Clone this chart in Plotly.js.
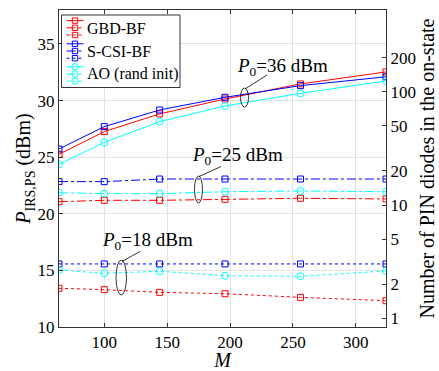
<!DOCTYPE html>
<html>
<head>
<meta charset="utf-8">
<script src="https://cdn.plot.ly/plotly-3.0.1.min.js"></script>
<style>html,body{margin:0;padding:0;background:#fff;}#plot{width:439px;height:371px;}</style>
</head>
<body>
<div id="plot"></div>
<script>
// ---- data ----
const M = [64, 100, 144, 196, 256, 324];
const gbd36  = [25.26, 27.26, 28.82, 30.14, 31.47, 32.53];
const scsi36 = [25.72, 27.70, 29.17, 30.29, 31.32, 32.10];
const ao36   = [24.37, 26.30, 28.14, 29.52, 30.64, 31.73];
const gbd25  = [21.07, 21.19, 21.19, 21.28, 21.37, 21.31];
const scsi25 = [22.84, 22.84, 23.07, 23.07, 23.07, 23.07];
const ao25   = [21.86, 21.78, 21.78, 21.95, 22.01, 21.95];
const gbd18  = [13.42, 13.30, 13.06, 12.94, 12.62, 12.32];
const scsi18 = [15.57, 15.57, 15.57, 15.57, 15.57, 15.57];
const ao18   = [15.04, 14.74, 14.92, 14.53, 14.48, 14.95];
const xTicks = [100, 150, 200, 250, 300];
const rightTicks = [1, 2, 5, 10, 20, 50, 100, 200];
const legendNames = ['GBD-BF', 'S-CSI-BF', 'AO (rand init)'];
const powerLabels = ['36', '25', '18'];

const RED = '#ff0000', BLUE = '#0000ff', CYAN = '#00ffff';
const FONT = '"Liberation Serif", "DejaVu Serif", serif';

const W = 439, H = 371;
const mg = {l: 59, r: 53, t: 10, b: 44};
const pw = W - mg.l - mg.r, ph = H - mg.t - mg.b;
const px = x => (x - mg.l) / pw;
const py = y => (mg.t + ph - y) / ph;

function tr(y, color, dash, symbol) {
  return {
    x: M, y: y, type: 'scatter', mode: 'lines+markers',
    line: {color: color, width: 1, dash: dash},
    marker: {symbol: symbol, size: symbol === 'circle-open' ? 7 : 6, color: color, line: {width: 1, color: color}},
    showlegend: false, hoverinfo: 'skip'
  };
}

const c = 10.77;
const traces = [
  tr(gbd36, RED, 'solid', 'square-open'),
  tr(scsi36, BLUE, 'solid', 'square-open'),
  tr(ao36, CYAN, 'solid', 'circle-open'),
  tr(gbd25, RED, 'dashdot', 'square-open'),
  tr(scsi25, BLUE, 'dashdot', 'square-open'),
  tr(ao25, CYAN, 'dashdot', 'circle-open'),
  tr(gbd18, RED, 'dot', 'square-open'),
  tr(scsi18, BLUE, 'dot', 'square-open'),
  tr(ao18, CYAN, 'dot', 'circle-open'),
  // invisible companion trace so the right (count) axis is drawn
  {x: M, y: scsi18.map(v => Math.pow(10, (v - c) / 10)), yaxis: 'y2', type: 'scatter', mode: 'markers',
   marker: {size: 1, color: 'rgba(0,0,0,0)'}, opacity: 0, showlegend: false, hoverinfo: 'skip'}
];

// ---- manual legend ----
const shapes = [];
const annotations = [];
shapes.push({type: 'rect', xref: 'paper', yref: 'paper', x0: px(61.5), x1: px(180), y0: py(15), y1: py(87.5),
  fillcolor: '#fff', line: {color: '#000', width: 0.8}, layer: 'above'});
const gColors = [RED, BLUE, CYAN];
const gCenters = [27.8, 51, 74];
const dashes = ['solid', 'dashdot', 'dot'];
gColors.forEach((col, gi) => {
  [-7.2, 0, 7.2].forEach((off, k) => {
    const yy = gCenters[gi] + off;
    shapes.push({type: 'line', xref: 'paper', yref: 'paper', x0: px(66.5), x1: px(83.5), y0: py(yy), y1: py(yy),
      line: {color: col, width: 1, dash: dashes[k]}, layer: 'above'});
    const r = gi === 2 ? 3.2 : 2.7;
    shapes.push({type: gi === 2 ? 'circle' : 'rect', xref: 'paper', yref: 'paper',
      x0: px(75 - r), x1: px(75 + r), y0: py(yy - r), y1: py(yy + r),
      fillcolor: 'rgba(0,0,0,0)', line: {color: col, width: 1}, layer: 'above'});
  });
  annotations.push({xref: 'paper', yref: 'paper', x: px(84.5), y: py(gCenters[gi] + 0.5), xanchor: 'left', yanchor: 'middle',
    text: legendNames[gi], showarrow: false, font: {family: FONT, size: 16, color: '#000'}});
});

// ---- power level annotations (ellipse + leader line + label) ----
const labelPos = [[235, 67], [190, 156], [100, 241]];
const ellipses = [[240.5, 88, 248.5, 107], [194.5, 176, 202.5, 203], [116, 260, 126.5, 295]];
const leaders = [[245, 89, 267, 75], [199, 176.5, 221, 166.5], [122, 261.5, 140, 251.5]];
powerLabels.forEach((p, i) => {
  annotations.push({xref: 'paper', yref: 'paper', x: px(labelPos[i][0]), y: py(labelPos[i][1]), xanchor: 'left', yanchor: 'middle',
    text: '<i>P</i><sub>0</sub>=' + p + ' dBm', showarrow: false, font: {family: FONT, size: 19, color: '#000'}});
  const e = ellipses[i];
  shapes.push({type: 'circle', xref: 'paper', yref: 'paper', x0: px(e[0]), x1: px(e[2]), y0: py(e[3]), y1: py(e[1]),
    line: {color: '#000', width: 0.8}, layer: 'above'});
  const l = leaders[i];
  shapes.push({type: 'line', xref: 'paper', yref: 'paper', x0: px(l[0]), y0: py(l[1]), x1: px(l[2]), y1: py(l[3]),
    line: {color: '#000', width: 0.8}, layer: 'above'});
});

const layout = {
  width: W, height: H,
  margin: mg,
  paper_bgcolor: '#fff', plot_bgcolor: '#fff',
  font: {family: FONT, size: 17, color: '#000'},
  showlegend: false,
  xaxis: {
    range: [64, 324], tickvals: xTicks, ticks: 'inside', ticklen: 4, tickcolor: '#333',
    showline: true, linecolor: '#333', linewidth: 1, mirror: 'ticks',
    showgrid: true, gridcolor: '#e3e3e3', zeroline: false,
    tickfont: {family: FONT, size: 17},
    title: {text: '<i>M</i>', font: {family: FONT, size: 20}, standoff: 5}
  },
  yaxis: {
    range: [10, 38], dtick: 5, tick0: 10, ticks: 'inside', ticklen: 4, tickcolor: '#333',
    showline: true, linecolor: '#333', linewidth: 1, mirror: false,
    showgrid: true, gridcolor: '#e3e3e3', zeroline: false,
    tickfont: {family: FONT, size: 17},
    title: {text: '<i>P</i><sub>IRS,PS</sub> (dBm)', font: {family: FONT, size: 20}, standoff: 0}
  },
  yaxis2: {
    overlaying: 'y', side: 'right', type: 'log',
    range: [(10 - c) / 10, (38 - c) / 10],
    tickvals: rightTicks, ticktext: rightTicks.map(String),
    ticks: 'inside', ticklen: 4, tickcolor: '#333',
    showline: true, linecolor: '#333', linewidth: 1,
    showgrid: false, zeroline: false,
    tickfont: {family: FONT, size: 17},
    title: {text: 'Number of PIN diodes in the on-state', font: {family: FONT, size: 20}, standoff: 4}
  },
  shapes: shapes,
  annotations: annotations
};

Plotly.newPlot('plot', traces, layout, {staticPlot: true, displayModeBar: false});
</script>
</body>
</html>
